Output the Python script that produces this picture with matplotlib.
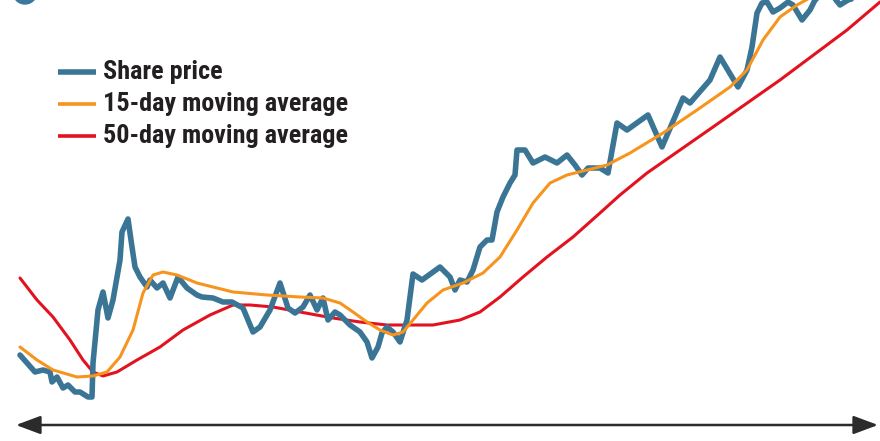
import matplotlib
matplotlib.use('Agg')
import matplotlib.pyplot as plt
from matplotlib.patches import Circle

# values (day position, price level in arbitrary units)
price_days = [20, 35, 43, 50, 52, 57, 63, 68, 75, 80, 88, 92, 93, 98, 103, 108, 113,
              120, 122, 128, 132, 135, 140, 147, 150, 157, 163, 170, 178, 187, 197, 202,
              213, 223, 232, 243, 253, 260, 270, 280, 288, 295, 303, 310, 317, 323, 328,
              335, 340, 350, 360, 367, 372, 378, 382, 387, 393, 400, 407, 413, 422, 440,
              450, 455, 460, 467, 473, 480, 487, 492, 497, 503, 510, 515, 517, 525, 533,
              545, 557, 567, 575, 582, 588, 600, 608, 617, 627, 648, 662, 683, 690, 710,
              720, 738, 747, 752, 757, 762, 767, 773, 780, 788, 793, 802, 810, 815, 828,
              840, 848, 865, 880]
share_price = [86, 69, 71, 69, 59, 64, 53, 56, 49, 49, 44, 44, 78, 131, 149, 123, 141,
               181, 209, 222, 194, 174, 164, 154, 161, 153, 158, 143, 164, 153, 146, 144,
               143, 139, 139, 133, 109, 114, 131, 158, 133, 128, 134, 146, 131, 143, 121,
               129, 126, 116, 109, 99, 83, 94, 108, 114, 109, 99, 121, 167, 161, 174,
               164, 151, 161, 159, 171, 194, 201, 201, 229, 244, 258, 266, 291, 291, 278,
               284, 278, 286, 276, 266, 273, 273, 268, 318, 311, 326, 294, 343, 338, 361,
               384, 354, 371, 394, 428, 438, 439, 429, 433, 439, 436, 421, 431, 441, 451,
               436, 441, 446, 444]

ma15_days = [20, 37, 53, 77, 93, 107, 120, 133, 143, 153, 163, 177, 197, 233, 267, 300,
             323, 340, 353, 367, 380, 393, 403, 413, 427, 443, 463, 483, 500, 517, 533,
             550, 567, 587, 607, 630, 663, 697, 730, 747, 763, 780, 797, 815, 840]
ma15 = [94, 81, 71, 64, 65, 69, 84, 111, 148, 166, 169, 166, 158, 149, 146, 144,
        143, 138, 129, 119, 111, 106, 109, 121, 138, 151, 158, 168, 184, 211, 238,
        258, 266, 271, 276, 288, 308, 331, 354, 371, 401, 424, 436, 446, 461]

ma50_days = [20, 37, 53, 70, 83, 93, 103, 117, 137, 160, 183, 210, 233, 250, 273, 300,
             333, 360, 387, 420, 433, 460, 480, 500, 523, 547, 573, 600, 620, 647, 713,
             780, 847, 880]
ma50 = [163, 141, 124, 101, 81, 69, 65, 69, 81, 94, 111, 126, 136, 136, 134, 129,
        123, 119, 116, 116, 116, 121, 129, 144, 164, 184, 204, 228, 246, 268, 314,
        361, 411, 439]

labels = ['Share price', '15-day moving average', '50-day moving average']
colors = ['#3b7596', '#f7941d', '#e2131f']

fig = plt.figure(figsize=(8.8, 4.41), dpi=100)
ax = fig.add_axes([0, 0, 1, 1])
ax.set_xlim(0, 880)
ax.set_ylim(0, 441)
ax.axis('off')

ax.plot(ma50_days, ma50, color=colors[2], lw=2.2, solid_capstyle='round', zorder=2)
ax.plot(price_days, share_price, color=colors[0], lw=4.0, solid_joinstyle='round',
        solid_capstyle='round', zorder=3)
ax.plot(ma15_days, ma15, color=colors[1], lw=2.2, solid_capstyle='round', zorder=4)

# partial badge at top-left
ax.add_patch(Circle((25, 449), 12, color='#3a78a0', clip_on=True))

# time arrow
ax.annotate('', xy=(878, 16), xytext=(16, 16),
            arrowprops=dict(arrowstyle='<|-|>,head_length=0.75,head_width=0.28',
                            color='#2b2b2b', lw=1.8, mutation_scale=20,
                            shrinkA=0, shrinkB=0))

# legend drawn by hand
font = ['Roboto Condensed', 'DejaVu Sans']
for i, (lab, col) in enumerate(zip(labels, colors)):
    y = 369 - i * 31.8
    ax.plot([58, 96], [y, y], color=col, lw=4.0 if i == 0 else 2.6,
            solid_capstyle='butt')
    ax.text(103, y, lab, fontsize=18.8, fontweight='bold', family=font,
            color='#231f20', va='center', ha='left')

fig.savefig('out.png', dpi=100)
